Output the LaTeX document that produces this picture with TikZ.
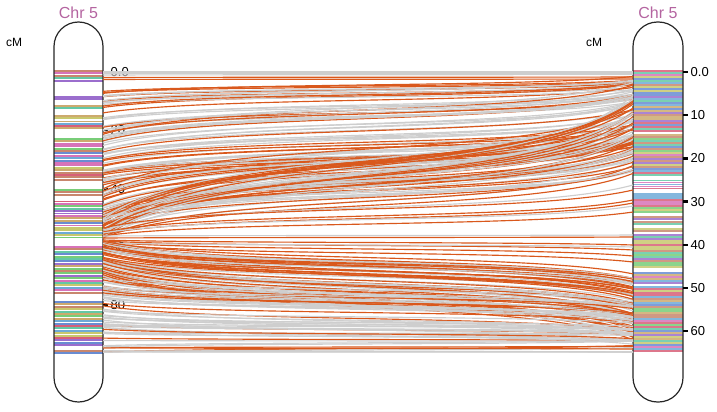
\documentclass[tikz,border=0pt]{standalone}
\usepackage{fontspec}
\setmainfont{Liberation Sans}
\definecolor{lor}{RGB}{217,88,28}
\definecolor{lgr}{RGB}{206,206,206}
\definecolor{chrc}{RGB}{180,100,160}
\definecolor{b1}{RGB}{155,110,205}
\definecolor{b2}{RGB}{120,205,120}
\definecolor{b3}{RGB}{200,135,110}
\definecolor{b4}{RGB}{215,95,120}
\definecolor{b5}{RGB}{215,115,185}
\definecolor{b6}{RGB}{100,200,165}
\definecolor{b7}{RGB}{105,140,210}
\definecolor{b8}{RGB}{200,200,110}
\definecolor{b9}{RGB}{205,170,110}
\definecolor{b10}{RGB}{110,170,215}
\tikzset{
  lnkline/.style={line width=1.15pt},
  chrom/.style={draw=black!85,line width=1.2pt,rounded corners=24.5pt},
  chrlabel/.style={text=chrc,font=\fontsize{16}{18}\selectfont,inner sep=0pt},
  cmlabel/.style={font=\fontsize{12}{14}\selectfont,inner sep=0pt},
  ticklabel/.style={font=\fontsize{13}{15}\selectfont,inner sep=0pt,anchor=west},
}
\newcommand\linkcurve[3]{%
  \pgfmathsetmacro\ya{#1+0.65*((#2)-(#1))}%
  \pgfmathsetmacro\yb{#2-0.65*((#2)-(#1))}%
  \draw[lnkline,#3] (103,#1) .. controls (209,\ya) and (527,\yb) .. (633,#2);}
% L0 L1 R0 R1 count porange noise
\newcommand\linkgroup[7]{%
  \foreach \k in {1,...,#5}{%
    \pgfmathsetmacro\u{rnd}%
    \pgfmathsetmacro\L{#1+\u*(#2-#1)}%
    \pgfmathsetmacro\R{max(72,min(352,#3+\u*(#4-#3)+(rnd-0.5)*2*#7))}%
    \pgfmathtruncatemacro\isor{rnd<#6}%
    \ifnum\isor=1 \linkcurve{\L}{\R}{lor}\else\linkcurve{\L}{\R}{lgr}\fi
  }}
% independent fan
\newcommand\fangroup[6]{%
  \foreach \k in {1,...,#5}{%
    \pgfmathsetmacro\L{#1+rnd*(#2-#1)}%
    \pgfmathsetmacro\R{#3+rnd*(#4-#3)}%
    \pgfmathtruncatemacro\isor{rnd<#6}%
    \ifnum\isor=1 \linkcurve{\L}{\R}{lor}\else\linkcurve{\L}{\R}{lgr}\fi
  }}
\newcommand\bandrange[5]{% x0 x1 y0 y1 step
  \pgfmathsetmacro\ylast{#4-1.8}%
  \pgfmathsetmacro\ysec{#3+#5}%
  \foreach \yy in {#3,\ysec,...,\ylast}{%
    \pgfmathrandominteger{\ci}{1}{10}%
    \fill[b\ci] (#1,\yy) rectangle (#2,\yy+1.9);
  }}
\begin{document}
\begin{tikzpicture}[x=1pt,y=-1pt]
\useasboundingbox (0,0) rectangle (717,412);
\pgfmathsetseed{4242}
% left bands
\foreach \ya/\yb in {70/83,96/102,105/110,115/118,120.5/123,125/130,138/181,189/197.5,200.5/240,246/295.5,301/346.5,350/353.5}{
  \bandrange{54}{103}{\ya}{\yb}{2.4}
}
% right bands
\begin{scope}[opacity=0.85]
\foreach \ya/\yb in {70/132,134/177,179.5/190.5,193/214,216/219.5,221/226,228/232.5,234/269,272/274,276/284,286/353}{
  \bandrange{633}{683}{\ya}{\yb}{2.0}
}
\end{scope}
% chromosomes
\draw[chrom] (54,22) rectangle (103,402);
\draw[chrom] (633,22) rectangle (683,402);
\node[chrlabel] (chrL) at (78.5,13) {Chr 5};
\node[chrlabel] (chrR) at (658,13) {Chr 5};
\node[cmlabel] (cmL) at (14,42) {cM};
\node[cmlabel] (cmR) at (594,42) {cM};
% left ticks
\foreach \v [count=\i from 0] in {0.0,20,40,60,80}{
  \pgfmathsetmacro\ty{72+\i*58.33}
  \fill (103,\ty-1) rectangle (107.5,\ty+1);
  \node[ticklabel] (tl\i) at (110.5,\ty) {\v};
}
% right ticks
\foreach \v [count=\i from 0] in {0.0,10,20,30,40,50,60}{
  \pgfmathsetmacro\ty{72+\i*43.2}
  \fill (683,\ty-1.2) rectangle (688,\ty+1.2);
  \node[ticklabel] (tr\i) at (690.5,\ty) {\v};
}
% links
\linkcurve{72}{72}{lgr}
\linkcurve{73.5}{73.5}{lgr}
\linkcurve{75}{74.5}{lgr}
\linkcurve{77.5}{77}{lor}
\linkcurve{79.5}{79}{lor}
\linkgroup{90}{130}{78}{100}{22}{0.5}{4}
\linkgroup{130}{185}{88}{150}{45}{0.35}{9}
\linkgroup{185}{215}{110}{165}{25}{0.4}{10}
\fangroup{215}{240}{95}{175}{42}{0.45}
\linkcurve{232}{200}{lor}
\linkcurve{234}{203}{lor}
\linkcurve{233}{206}{lgr}
\linkcurve{236}{212}{lor}
\linkcurve{230}{185}{lgr}
\linkcurve{228}{190}{lor}
\linkcurve{238}{237}{lor}
\linkcurve{236}{235}{lgr}
\linkcurve{240}{245}{lor}
\linkcurve{241}{250}{lor}
\linkcurve{242}{256}{lor}
\linkcurve{243}{247}{lgr}
\linkcurve{244}{262}{lor}
\linkgroup{240}{278}{272}{338}{60}{0.62}{10}
\linkgroup{278}{353}{308}{352}{55}{0.2}{8}
\end{tikzpicture}
\end{document}
